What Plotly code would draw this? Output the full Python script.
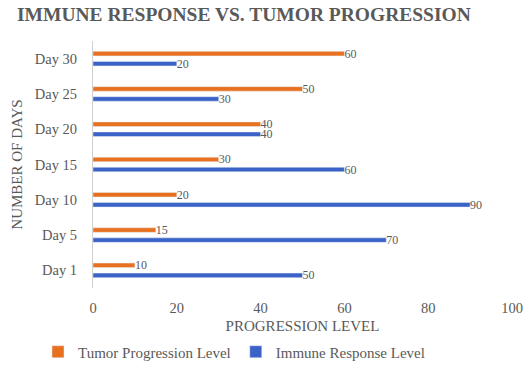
import plotly.graph_objects as go

days = ["Day 1", "Day 5", "Day 10", "Day 15", "Day 20", "Day 25", "Day 30"]
tumor = [10, 15, 20, 30, 40, 50, 60]
immune = [50, 70, 90, 60, 40, 30, 20]
x_ticks = [0, 20, 40, 60, 80, 100]

ORANGE = "#E8701E"
BLUE = "#3B62C6"
GREY = "#595959"
FONT = "Liberation Serif, Times New Roman, serif"

fig = go.Figure()
fig.add_trace(go.Bar(
    y=days, x=immune, orientation="h", name="Immune Response Level",
    marker=dict(color=BLUE), text=immune, textposition="outside",
    constraintext="none",
    textfont=dict(family=FONT, size=12, color=GREY), cliponaxis=False,
))
fig.add_trace(go.Bar(
    y=days, x=tumor, orientation="h", name="Tumor Progression Level",
    marker=dict(color=ORANGE), text=tumor, textposition="outside",
    constraintext="none",
    textfont=dict(family=FONT, size=12, color=GREY), cliponaxis=False,
))

fig.update_layout(
    width=524, height=377,
    margin=dict(l=93, r=12, t=41, b=89, autoexpand=False),
    paper_bgcolor="white", plot_bgcolor="white",
    barmode="group", bargap=0.43, bargroupgap=0.55,
    font=dict(family=FONT, color=GREY, size=14),
    title=dict(text="<b>IMMUNE RESPONSE VS. TUMOR PROGRESSION</b>",
               x=17/524, xanchor="left", y=1-14/377, yanchor="middle",
               font=dict(family=FONT, size=19.5, color=GREY)),
    xaxis=dict(range=[0, 100], tickvals=x_ticks, showgrid=False, zeroline=False,
               showline=False, ticks="", automargin=False, ticklabelstandoff=9,
               tickfont=dict(family=FONT, size=14.5, color=GREY),
               title=dict(text="PROGRESSION LEVEL", font=dict(family=FONT, size=15, color=GREY), standoff=5)),
    yaxis=dict(categoryorder="array", categoryarray=days, showgrid=False,
               showline=True, linecolor="#D0D0D0", linewidth=1, ticks="",
               automargin=False,
               tickfont=dict(family=FONT, size=14.5, color=GREY), ticklabelstandoff=12,
               title=dict(text="NUMBER OF DAYS", font=dict(family=FONT, size=15, color=GREY), standoff=8)),
    legend=dict(orientation="h", traceorder="reversed", xref="container", yref="container",
                x=38/524, xanchor="left", y=1-352/377, yanchor="middle",
                font=dict(family=FONT, size=15, color=GREY)),
    showlegend=True,
)

fig.write_html("out.html", config={"displayModeBar": False},
               post_script="document.body.style.margin='0';document.body.style.padding='0';")
